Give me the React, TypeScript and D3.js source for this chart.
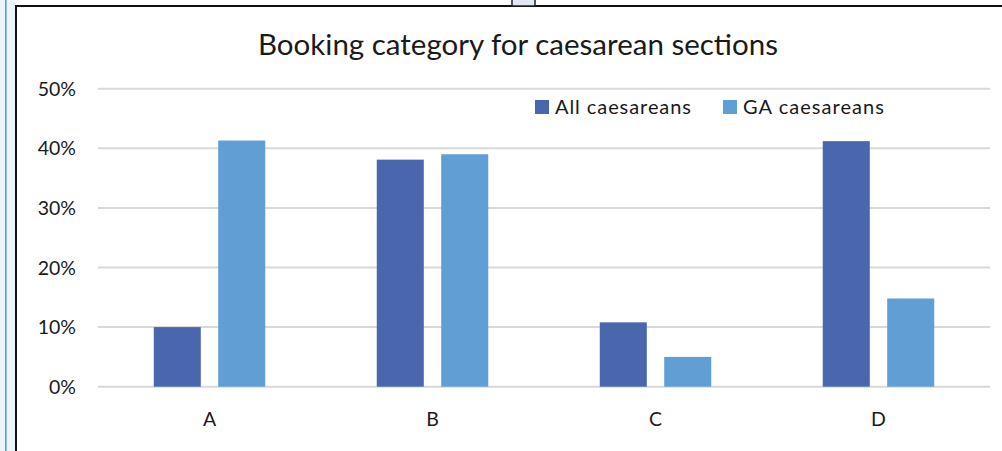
import React from "react";
import * as d3 from "d3";

const categories = ["A", "B", "C", "D"];
const seriesNames = ["All caesareans", "GA caesareans"];
const allCaesareans = [10.0, 38.1, 10.8, 41.2];
const gaCaesareans = [41.3, 39.0, 5.0, 14.8];
const yTicks = [0, 10, 20, 30, 40, 50];

const W = 1002;
const H = 451;
const FONT = "Lato, 'Open Sans', sans-serif";
const colors = ["#4a67ae", "#619ed3"];

export default function App() {
  const x0 = d3
    .scaleBand<string>()
    .domain(categories)
    .range([98, 990])
    .paddingInner(0.5)
    .paddingOuter(0.25);
  const x1 = d3
    .scaleBand<string>()
    .domain(seriesNames)
    .range([0, x0.bandwidth()])
    .paddingInner(0.27);
  const y = d3.scaleLinear().domain([0, 50]).range([386.7, 88.7]);
  const series = [allCaesareans, gaCaesareans];
  const legendX = [535, 723];
  const legendTextLen = [136, 141];

  return (
    <div style={{ position: "fixed", left: 0, top: 0 }}>
      <svg width={W} height={H} style={{ display: "block", background: "#fff" }}>
        {/* document frame around the chart */}
        <rect x={0} y={0} width={15} height={H} fill="#eef4fb" />
        <rect x={5} y={0} width={1.6} height={H} fill="#5b9bd5" />
        <rect x={15} y={5} width={2} height={H} fill="#111" />
        <rect x={15} y={5} width={W - 15} height={2} fill="#111" />
        <rect x={512} y={-1} width={23} height={7} fill="#e1e8f3" stroke="#222" strokeWidth={1.5} />

        <text
          x={518}
          y={55}
          textAnchor="middle"
          fontFamily={FONT}
          fontSize={28.5}
          textLength={520}
          lengthAdjust="spacingAndGlyphs"
          fill="#1a1a1a"
        >
          Booking category for caesarean sections
        </text>

        {yTicks.map((t) => (
          <g key={t}>
            <line x1={98} x2={990} y1={y(t)} y2={y(t)} stroke="#d9d9d9" strokeWidth={2} />
            <text
              x={76}
              y={y(t)}
              dy="0.36em"
              textAnchor="end"
              fontFamily={FONT}
              fontSize={19.5}
              fill="#1a1a1a"
            >
              {t}%
            </text>
          </g>
        ))}

        {categories.map((c, i) => (
          <g key={c} transform={`translate(${x0(c)},0)`}>
            {seriesNames.map((s, j) => (
              <rect
                key={s}
                x={x1(s)}
                y={y(series[j][i])}
                width={x1.bandwidth()}
                height={y(0) - y(series[j][i])}
                fill={colors[j]}
              />
            ))}
            <text
              x={x0.bandwidth() / 2}
              y={426}
              textAnchor="middle"
              fontFamily={FONT}
              fontSize={19.5}
              fill="#1a1a1a"
            >
              {c}
            </text>
          </g>
        ))}

        {/* legend */}
        {legendX.map((lx, j) => (
          <g key={seriesNames[j]}>
            <rect x={lx} y={100} width={14} height={14} fill={colors[j]} />
            <text
              x={lx + 20}
              y={114}
              fontFamily={FONT}
              fontSize={20}
              textLength={legendTextLen[j]}
              lengthAdjust="spacing"
              fill="#1a1a1a"
            >
              {seriesNames[j]}
            </text>
          </g>
        ))}
      </svg>
    </div>
  );
}
